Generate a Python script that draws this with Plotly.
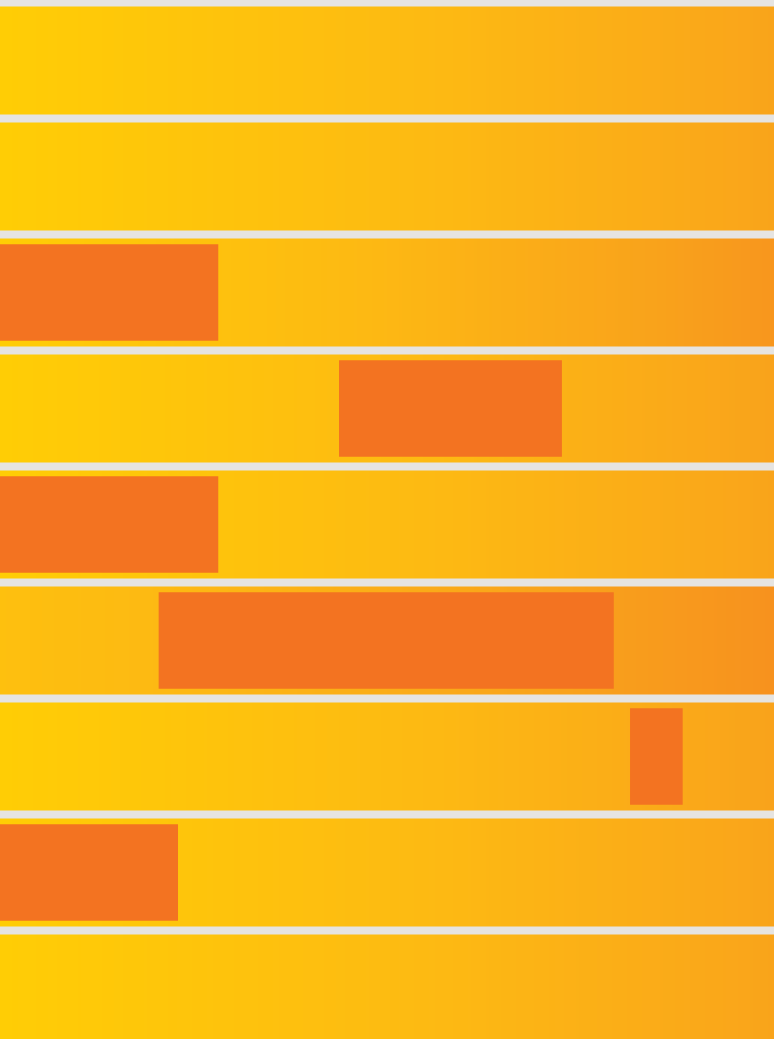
import numpy as np
import plotly.graph_objects as go

# Rows (top to bottom)
rows = list(range(9))
# Background gradient per row: start/end position on the colour ramp
row_grad_start = [0.0, 0.0, 0.0, 0.0, 0.0, 0.30, 0.0, 0.0, 0.0]
row_grad_end = [0.78, 0.78, 0.95, 0.80, 0.78, 1.0, 0.80, 0.78, 0.78]

# Task bars (row index, start, end) in x units 0..100
task_rows = [2, 3, 4, 5, 6, 7]
task_start = [0.0, 43.8, 0.0, 20.5, 81.4, 0.0]
task_end = [28.2, 72.6, 28.2, 79.3, 88.2, 23.0]

GRAY = "#E6E4E1"
BAR = "#F37321"
ramp = [[0.0, "#FFCD05"], [0.45, "#FDB913"], [0.8, "#F9A31B"], [1.0, "#F7921E"]]

ncols = 258
xc = (np.arange(ncols) + 0.5) * 100.0 / ncols
t = np.arange(ncols) / (ncols - 1)
z = []
for s, e in zip(row_grad_start, row_grad_end):
    row = s + (e - s) * t
    z.append(row.tolist())

fig = go.Figure()
fig.add_trace(go.Heatmap(
    z=z, x=xc, y=rows, colorscale=ramp, zmin=0, zmax=1,
    showscale=False, ygap=8, xgap=0, hoverinfo="skip"))

fig.add_trace(go.Bar(
    y=task_rows,
    x=[e - s for s, e in zip(task_start, task_end)],
    base=task_start,
    orientation="h",
    width=0.83,
    marker=dict(color=BAR, line=dict(width=0)),
    hoverinfo="skip"))

fig.update_layout(
    width=774, height=1039,
    margin=dict(l=0, r=0, t=0, b=0),
    paper_bgcolor=GRAY, plot_bgcolor=GRAY,
    showlegend=False,
    xaxis=dict(range=[0, 100], visible=False, fixedrange=True),
    yaxis=dict(range=[(1039 - 60.5) / 116.0, -60.5 / 116.0], visible=False, fixedrange=True),
)

fig.write_html("out.html", config={"displayModeBar": False},
               post_script="document.body.style.margin='0';document.body.style.overflow='hidden';")
